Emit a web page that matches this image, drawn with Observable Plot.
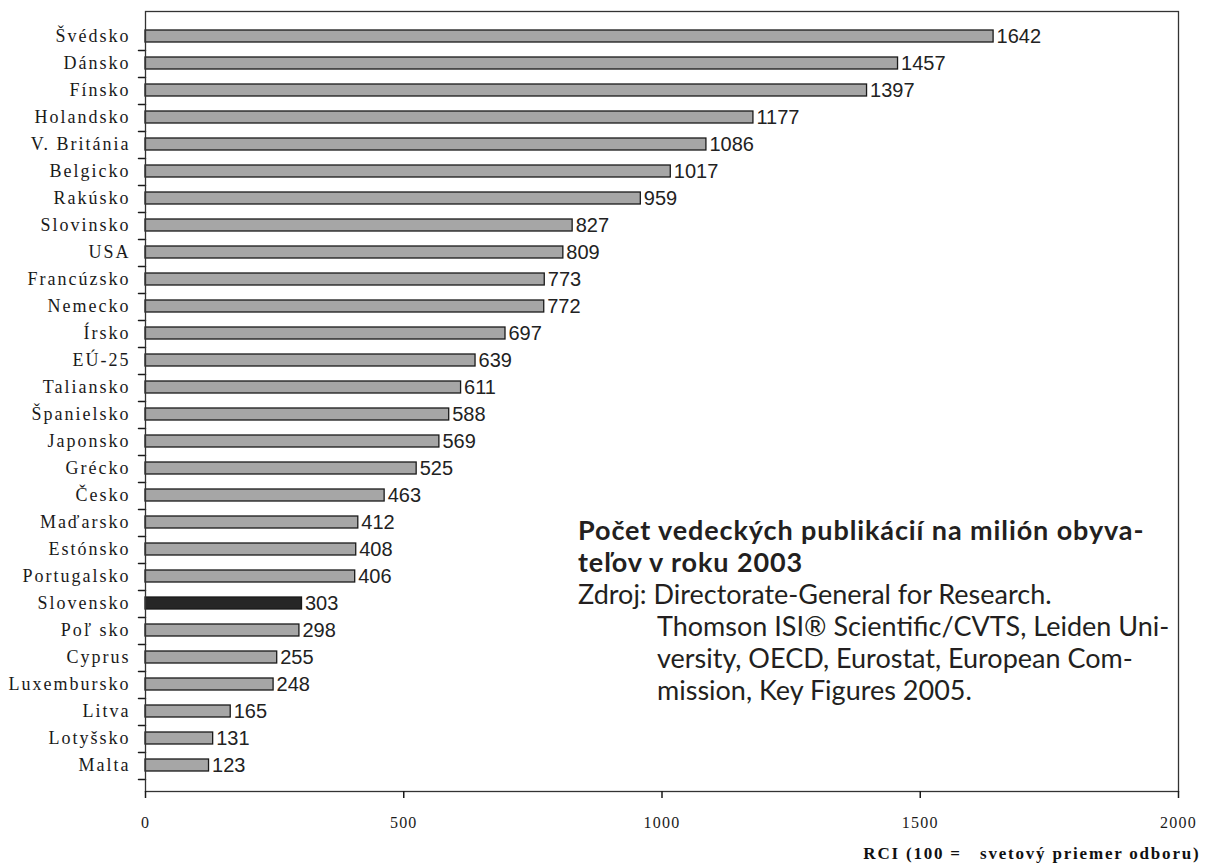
<!DOCTYPE html>
<html><head><meta charset="utf-8">
<script src="https://cdn.jsdelivr.net/npm/d3@7"></script>
<script src="https://cdn.jsdelivr.net/npm/@observablehq/plot@0.6"></script>
<style>
body{margin:0;background:#fff;}
#wrap{position:relative;width:1207px;height:865px;overflow:hidden;}
#note{position:absolute;left:578px;top:514px;font-family:"Lato";font-size:27px;line-height:32px;color:#231f20;white-space:nowrap;}
#note .b{font-weight:bold;letter-spacing:0.9px;}
#note .i{padding-left:79px;}
g[aria-label="y-axis tick label"] text{letter-spacing:2px;}
g[aria-label="x-axis tick label"] text{letter-spacing:1.2px;}
.xlab{letter-spacing:1.8px;}
</style></head><body>
<div id="wrap"><div id="chart"></div>
<div id="note">
<div class="b">Počet vedeckých publikácií na milión obyva-</div>
<div class="b">teľov v roku 2003</div>
<div>Zdroj: Directorate-General for Research.</div>
<div class="i">Thomson ISI® Scientific/CVTS, Leiden Uni-</div>
<div class="i">versity, OECD, Eurostat, European Com-</div>
<div class="i">mission, Key Figures 2005.</div>
</div>
</div>
<script>
const countries = ["Švédsko","Dánsko","Fínsko","Holandsko","V. Británia","Belgicko","Rakúsko","Slovinsko","USA","Francúzsko","Nemecko","Írsko","EÚ-25","Taliansko","Španielsko","Japonsko","Grécko","Česko","Maďarsko","Estónsko","Portugalsko","Slovensko","Poľ sko","Cyprus","Luxembursko","Litva","Lotyšsko","Malta"];
const values = [1642,1457,1397,1177,1086,1017,959,827,809,773,772,697,639,611,588,569,525,463,412,408,406,303,298,255,248,165,131,123];
const highlight = "Slovensko";
const xTicks = [0,500,1000,1500,2000];
const xLabel = "RCI (100 =   svetový priemer odboru)";

const data = countries.map((c,i)=>({country:c, value:values[i]}));
const H = 865, mT = 11, mB = 74;
const step = (H - mT - mB) / countries.length;
const tickShape = {draw(ctx, l){ ctx.moveTo(0,0); ctx.lineTo(0,-l); }};

const chart = Plot.plot({
  width:1207, height:H, marginLeft:145, marginRight:29, marginTop:mT, marginBottom:mB,
  style:{background:"#fff", color:"#1a1a1a"},
  x:{domain:[0,2000], ticks:xTicks, tickFormat:d3.format("d"), label:null},
  y:{domain:countries, paddingInner:0.55, paddingOuter:0.275, label:null},
  marks:[
    Plot.barX(data.filter(d=>d.country!==highlight),{x:"value", y:"country", fill:"#a6a6a6", stroke:"#1a1a1a", strokeWidth:1.3}),
    Plot.barX(data.filter(d=>d.country===highlight),{x:"value", y:"country", fill:"#262626", stroke:"#1a1a1a", strokeWidth:1.3}),
    Plot.text(data,{x:"value", y:"country", text:d=>String(d.value), textAnchor:"start", dx:3, fontSize:20, fontFamily:"Liberation Sans", fill:"#222"}),
    Plot.vector(countries,{x:0, y:d=>d, dy:step/2, length:7, rotate:-90, anchor:"start", shape:tickShape, stroke:"#1a1a1a", strokeWidth:1.5}),
    Plot.frame({stroke:"#333", strokeWidth:1.3}),
    Plot.axisY({tickSize:0, tickPadding:15, fontFamily:"Liberation Serif", fontSize:18, fill:"#1a1a1a"}),
    Plot.axisX({ticks:xTicks, tickFormat:d3.format("d"), tickSize:7, tickPadding:18, fontFamily:"Liberation Serif", fontSize:16, strokeWidth:1.5, stroke:"#1a1a1a", fill:"#1a1a1a"}),
    Plot.text([xLabel],{frameAnchor:"bottom-right", text:d=>d, textAnchor:"end", lineAnchor:"middle", dx:22, dy:62, fontWeight:"bold", fontFamily:"Liberation Serif", fontSize:17, fill:"#111", className:"xlab"})
  ]
});
document.getElementById("chart").appendChild(chart);
</script>
</body></html>
